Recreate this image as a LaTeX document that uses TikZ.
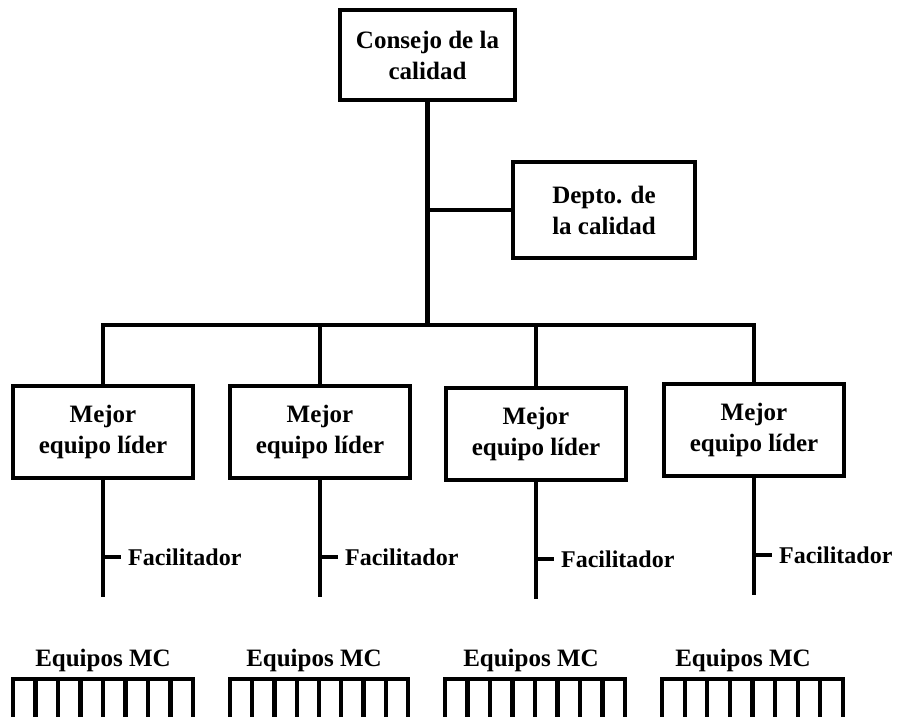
\documentclass[tikz,border=0pt]{standalone}
\usepackage{fontspec}
\setmainfont{Liberation Serif}
\usetikzlibrary{calc}
\begin{document}
\begin{tikzpicture}[x=1pt,y=-1pt,
  line width=4.2pt,
  every node/.style={font=\bfseries\fontsize{25}{31}\selectfont, inner sep=0pt},
  orgbox/.style={draw, line width=4.2pt, align=center, minimum width=180pt, minimum height=92pt},
  conn/.style={line width=4.2pt, line cap=butt},
  facil/.style={anchor=west, font=\bfseries\fontsize{24}{30}\selectfont},
  teamlbl/.style={anchor=center}]
\useasboundingbox (0,0) rectangle (897,717);
% boxes
\node[orgbox, minimum width=175pt, minimum height=90pt] (consejo) at (427.5,55) {Consejo de la\\calidad};
\node[orgbox, minimum width=182pt, minimum height=96pt] (depto) at (604,210) {Depto. de\\la calidad};
\node[orgbox] (m1) at (103,432) {Mejor\\equipo líder};
\node[orgbox] (m2) at (320,432) {Mejor\\equipo líder};
\node[orgbox] (m3) at (536,434) {Mejor\\equipo líder};
\node[orgbox] (m4) at (754,430) {Mejor\\equipo líder};
% bus
\coordinate (busL) at (103,325);
\coordinate (busR) at (754,325);
\coordinate (busC) at (427.5,325);
\draw[conn] (consejo.south) -- (busC);
\draw[conn] (consejo.south |- depto.west) -- (depto.west);
\draw[conn, line cap=rect] (busL) -- (busR);
\foreach \m in {m1,m2,m3,m4} {
  \draw[conn] (\m.north |- busL) -- (\m.north);
}
% drops with facilitator ticks
\foreach \m/\i in {m1/1,m2/2,m3/3,m4/4} {
  \coordinate (end\i) at ($(\m.south)+(0,117)$);
  \coordinate (tick\i) at ($(\m.south)+(0,77)$);
  \coordinate (tickend\i) at ($(tick\i)+(18,0)$);
  \draw[conn] (\m.south) -- (end\i);
  \draw[conn] (tick\i) -- (tickend\i);
  \node[facil] (fac\i) at ($(tickend\i)+(5,0)$) {Facilitador};
}
% teams
\node[teamlbl] (eq1) at (103,660) {Equipos MC};
\node[teamlbl] (eq2) at (314,660) {Equipos MC};
\node[teamlbl] (eq3) at (531,660) {Equipos MC};
\node[teamlbl] (eq4) at (743,660) {Equipos MC};
\foreach \l/\r in {13/193, 230/408, 445/625, 662/843} {
  \draw[conn, line cap=butt] (\l,717) -- (\l,679) -- (\r,679) -- (\r,717);
  \foreach \k in {1,...,7} {
    \draw[conn] ({\l+(\r-\l)*\k/8},679) -- ({\l+(\r-\l)*\k/8},717);
  }
}
\end{tikzpicture}
\end{document}
